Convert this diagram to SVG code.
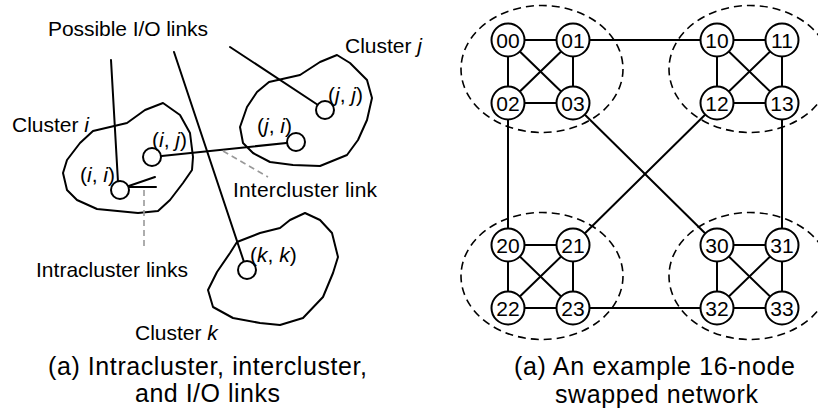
<svg xmlns="http://www.w3.org/2000/svg" width="818" height="412" viewBox="0 0 818 412">
<style>
  text { font-family: "Liberation Sans", Arial, sans-serif; fill: #000; }
  .lbl { font-size: 21px; }
  .cap { font-size: 25px; }
  .it { font-style: italic; }
  .nt { font-size: 21px; text-anchor: middle; }
  .ln { stroke: #000; stroke-width: 2; fill: none; stroke-linecap: round; }
  .out { stroke: #000; stroke-width: 2; fill: none; stroke-linejoin: round; }
  .grey { stroke: #999; stroke-width: 1.6; stroke-dasharray: 6 4; fill: none; }
  .ell { stroke: #000; stroke-width: 1.6; stroke-dasharray: 8 5; fill: none; }
  .nd { stroke: #000; stroke-width: 2; fill: #fff; }
</style>
<rect width="818" height="412" fill="#fff"/>

<!-- Left panel: clusters -->
<g id="cluster-outlines">
  <polygon class="out" points="93,131 127,123 145,110 163,103 180,115 190,133 193,157 192,170 183,183 170,200 158,211 138,213 97,209 77,200 67,190 63,173 67,160 80,143"/>
  <polygon class="out" points="269,82 300,75 320,62 337,55 350,63 367,80 372,98 367,120 358,140 347,155 320,166 293,165 270,162 253,153 243,143 240,127 247,107 257,92"/>
  <polygon class="out" points="237,242 260,233 280,228 290,220 305,213 320,220 332,233 338,257 333,273 323,297 303,318 280,325 260,323 233,318 213,307 208,290 217,272 230,253"/>
</g>

<g id="left-connectors">
  <line class="ln" x1="111" y1="60" x2="118" y2="182"/>
  <line class="ln" x1="174" y1="52" x2="244" y2="262"/>
  <line class="ln" x1="230" y1="47" x2="318" y2="105"/>
  <line class="ln" x1="152" y1="157" x2="296" y2="142"/>
  <line class="ln" x1="120" y1="189" x2="155" y2="177"/>
  <line class="ln" x1="120" y1="187" x2="156" y2="187"/>
  <line class="grey" x1="144" y1="190" x2="144" y2="250"/>
  <line class="grey" x1="223" y1="151" x2="268" y2="177"/>
</g>

<g id="left-nodes">
  <circle id="n-ii" class="nd" cx="120" cy="190" r="9"/>
  <circle id="n-ij" class="nd" cx="152" cy="157" r="9"/>
  <circle id="n-ji" class="nd" cx="296" cy="142" r="9"/>
  <circle id="n-jj" class="nd" cx="325" cy="110" r="9"/>
  <circle id="n-kk" class="nd" cx="247" cy="270" r="9"/>
</g>

<g id="left-labels">
  <text class="lbl" x="48" y="36" textLength="160" lengthAdjust="spacing">Possible I/O links</text>
  <text class="lbl" x="345" y="53">Cluster <tspan class="it">j</tspan></text>
  <text class="lbl" x="12" y="132">Cluster <tspan class="it">i</tspan></text>
  <text class="lbl" x="233" y="197" textLength="144" lengthAdjust="spacing">Intercluster link</text>
  <text class="lbl" x="36" y="277" textLength="152" lengthAdjust="spacing">Intracluster links</text>
  <text class="lbl" x="135" y="340">Cluster <tspan class="it">k</tspan></text>
  <text class="lbl" x="80" y="182">(<tspan class="it">i</tspan>, <tspan class="it">i</tspan>)</text>
  <text class="lbl" x="152" y="147">(<tspan class="it">i</tspan>, <tspan class="it">j</tspan>)</text>
  <text class="lbl" x="257" y="133">(<tspan class="it">j</tspan>, <tspan class="it">i</tspan>)</text>
  <text class="lbl" x="328" y="102">(<tspan class="it">j</tspan>, <tspan class="it">j</tspan>)</text>
  <text class="lbl" x="250" y="262">(<tspan class="it">k</tspan>, <tspan class="it">k</tspan>)</text>
  <text class="cap" x="48" y="375" textLength="319" lengthAdjust="spacing">(a) Intracluster, intercluster,</text>
  <text class="cap" x="135" y="402" textLength="145" lengthAdjust="spacing">and I/O links</text>
</g>

<!-- Right panel: swapped network -->
<g id="cluster-ellipses">
  <ellipse class="ell" cx="542" cy="69" rx="81" ry="63.5"/>
  <ellipse class="ell" cx="750" cy="69" rx="81" ry="63.5"/>
  <ellipse class="ell" cx="542" cy="276" rx="81" ry="63.5"/>
  <ellipse class="ell" cx="750" cy="276" rx="81" ry="63.5"/>
</g>

<g id="connectors">
  <!-- cluster 0 -->
  <line class="ln" x1="508" y1="40" x2="573" y2="40"/>
  <line class="ln" x1="508" y1="103" x2="573" y2="103"/>
  <line class="ln" x1="508" y1="40" x2="508" y2="103"/>
  <line class="ln" x1="573" y1="40" x2="573" y2="103"/>
  <line class="ln" x1="508" y1="40" x2="573" y2="103"/>
  <line class="ln" x1="573" y1="40" x2="508" y2="103"/>
  <!-- cluster 1 -->
  <line class="ln" x1="717" y1="40" x2="782" y2="40"/>
  <line class="ln" x1="717" y1="103" x2="782" y2="103"/>
  <line class="ln" x1="717" y1="40" x2="717" y2="103"/>
  <line class="ln" x1="782" y1="40" x2="782" y2="103"/>
  <line class="ln" x1="717" y1="40" x2="782" y2="103"/>
  <line class="ln" x1="782" y1="40" x2="717" y2="103"/>
  <!-- cluster 2 -->
  <line class="ln" x1="508" y1="245" x2="573" y2="245"/>
  <line class="ln" x1="508" y1="308" x2="573" y2="308"/>
  <line class="ln" x1="508" y1="245" x2="508" y2="308"/>
  <line class="ln" x1="573" y1="245" x2="573" y2="308"/>
  <line class="ln" x1="508" y1="245" x2="573" y2="308"/>
  <line class="ln" x1="573" y1="245" x2="508" y2="308"/>
  <!-- cluster 3 -->
  <line class="ln" x1="717" y1="245" x2="782" y2="245"/>
  <line class="ln" x1="717" y1="308" x2="782" y2="308"/>
  <line class="ln" x1="717" y1="245" x2="717" y2="308"/>
  <line class="ln" x1="782" y1="245" x2="782" y2="308"/>
  <line class="ln" x1="717" y1="245" x2="782" y2="308"/>
  <line class="ln" x1="782" y1="245" x2="717" y2="308"/>
  <!-- inter-cluster (swap) links -->
  <line class="ln" x1="573" y1="40" x2="717" y2="40"/>
  <line class="ln" x1="508" y1="103" x2="508" y2="245"/>
  <line class="ln" x1="782" y1="103" x2="782" y2="245"/>
  <line class="ln" x1="573" y1="308" x2="717" y2="308"/>
  <line class="ln" x1="573" y1="103" x2="717" y2="245"/>
  <line class="ln" x1="717" y1="103" x2="573" y2="245"/>
</g>

<g id="node-00"><circle class="nd" cx="508" cy="40" r="16.5"/><text class="nt" x="508" y="47.5">00</text></g>
<g id="node-01"><circle class="nd" cx="573" cy="40" r="16.5"/><text class="nt" x="573" y="47.5">01</text></g>
<g id="node-02"><circle class="nd" cx="508" cy="103" r="16.5"/><text class="nt" x="508" y="110.5">02</text></g>
<g id="node-03"><circle class="nd" cx="573" cy="103" r="16.5"/><text class="nt" x="573" y="110.5">03</text></g>
<g id="node-10"><circle class="nd" cx="717" cy="40" r="16.5"/><text class="nt" x="717" y="47.5">10</text></g>
<g id="node-11"><circle class="nd" cx="782" cy="40" r="16.5"/><text class="nt" x="782" y="47.5">11</text></g>
<g id="node-12"><circle class="nd" cx="717" cy="103" r="16.5"/><text class="nt" x="717" y="110.5">12</text></g>
<g id="node-13"><circle class="nd" cx="782" cy="103" r="16.5"/><text class="nt" x="782" y="110.5">13</text></g>
<g id="node-20"><circle class="nd" cx="508" cy="245" r="16.5"/><text class="nt" x="508" y="252.5">20</text></g>
<g id="node-21"><circle class="nd" cx="573" cy="245" r="16.5"/><text class="nt" x="573" y="252.5">21</text></g>
<g id="node-22"><circle class="nd" cx="508" cy="308" r="16.5"/><text class="nt" x="508" y="315.5">22</text></g>
<g id="node-23"><circle class="nd" cx="573" cy="308" r="16.5"/><text class="nt" x="573" y="315.5">23</text></g>
<g id="node-30"><circle class="nd" cx="717" cy="245" r="16.5"/><text class="nt" x="717" y="252.5">30</text></g>
<g id="node-31"><circle class="nd" cx="782" cy="245" r="16.5"/><text class="nt" x="782" y="252.5">31</text></g>
<g id="node-32"><circle class="nd" cx="717" cy="308" r="16.5"/><text class="nt" x="717" y="315.5">32</text></g>
<g id="node-33"><circle class="nd" cx="782" cy="308" r="16.5"/><text class="nt" x="782" y="315.5">33</text></g>

<g id="right-caption">
  <text class="cap" x="514" y="375" textLength="281" lengthAdjust="spacing">(a) An example 16-node</text>
  <text class="cap" x="555" y="403" textLength="203" lengthAdjust="spacing">swapped network</text>
</g>
</svg>
